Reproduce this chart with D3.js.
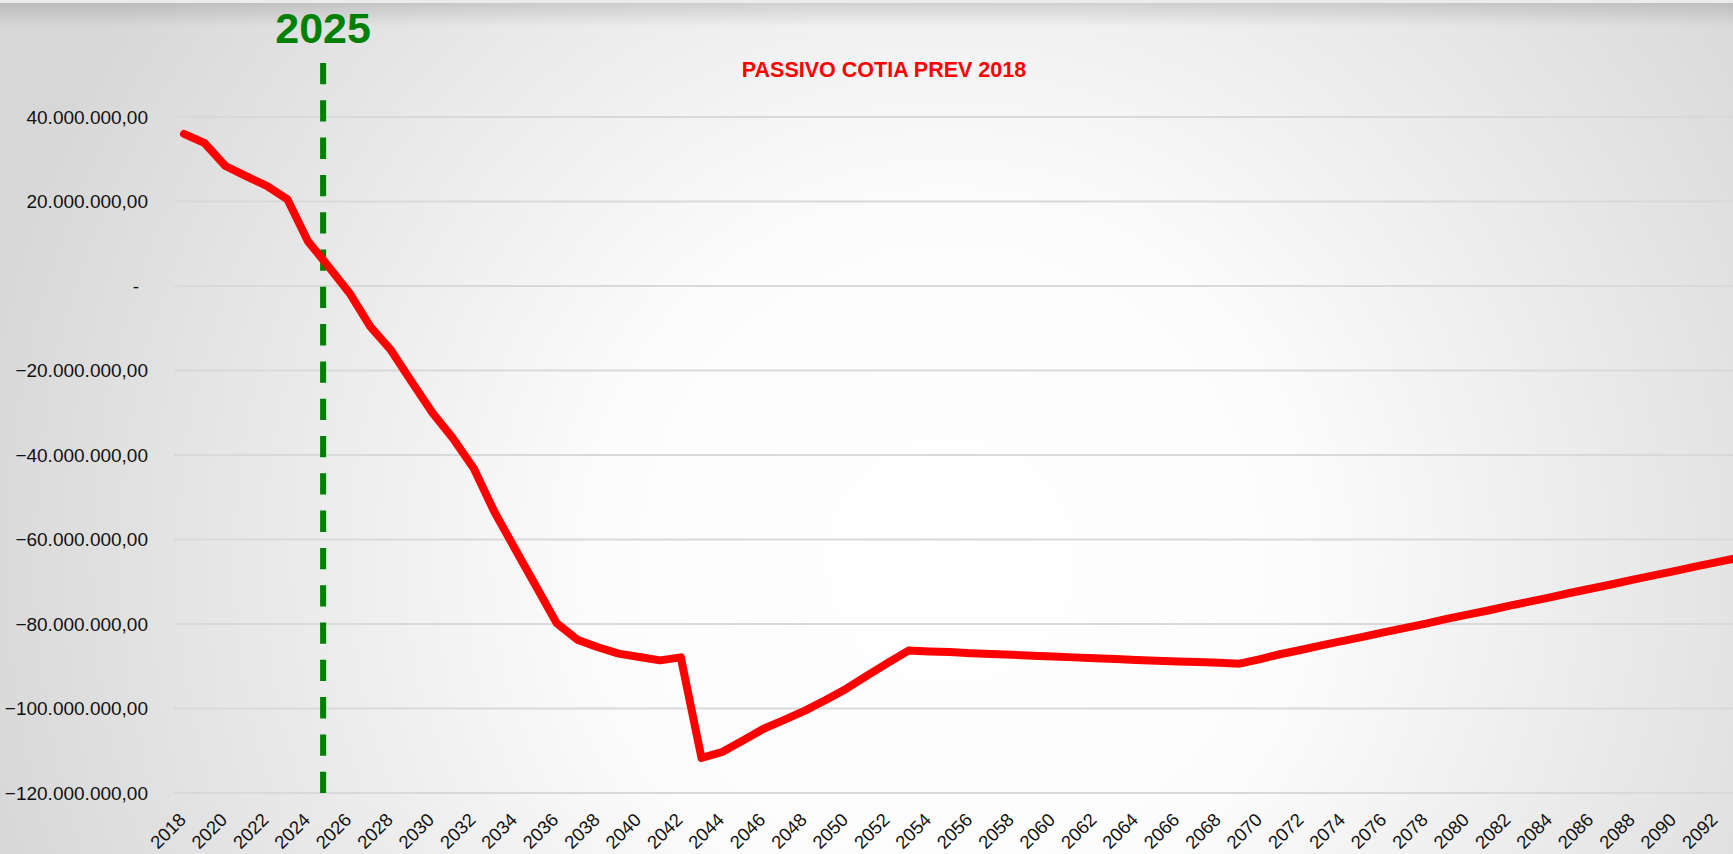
<!DOCTYPE html>
<html>
<head>
<meta charset="utf-8">
<script src="https://cdn.jsdelivr.net/npm/d3@7"></script>
<style>
  body { margin: 0; overflow: hidden; }
  text { font-family: "Liberation Sans", Arial, sans-serif; }
</style>
</head>
<body>
<div id="chart"></div>
<script>

var svgWidth = 1733;
var svgHeight = 854;

// years on the category axis
var years = d3.range(2018, 2094);

// liability per year, in millions of R$
var passivo = [
  36.0, 33.8, 28.4, 26.0, 23.7, 20.5, 10.5, 4.5, -1.7, -9.6,
  -15.2, -22.7, -30.0, -36.1, -43.2, -53.5, -62.3, -71.0, -79.8, -83.7,
  -85.5, -87.0, -87.8, -88.6, -87.9, -111.7, -110.3, -107.6, -104.8, -102.7,
  -100.5, -98.0, -95.3, -92.2, -89.2, -86.3, -86.5, -86.6, -86.9, -87.1,
  -87.3, -87.5, -87.7, -87.9, -88.1, -88.3, -88.5, -88.7, -88.9, -89.0,
  -89.2, -89.4, -88.3, -87.1, -86.1, -85.0, -84.0, -83.0, -81.9, -80.9,
  -79.9, -78.8, -77.8, -76.8, -75.7, -74.7, -73.7, -72.6, -71.6, -70.6,
  -69.5, -68.5, -67.5, -66.4, -65.4, -64.4
];

// y tick values (millions)
var yTicks = [40, 20, 0, -20, -40, -60, -80, -100, -120];

// x tick labels: every other year
var xTicks = d3.range(2018, 2093, 2);

var chartTitle = "PASSIVO COTIA PREV 2018";
var markerLabel = "2025";
// the hand drawn marker sits a bit left of the 2025 point
var markerPos = 2024.72;

var data = years.map(function(y, i) { return { year: y, value: passivo[i] * 1e6 }; });

var plotLeft = 174;

var svg = d3.select("#chart")
  .append("svg")
  .attr("width", svgWidth)
  .attr("height", svgHeight);

// background: soft radial gradient, white in the middle
var defs = svg.append("defs");
var bg = defs.append("radialGradient")
  .attr("id", "bg")
  .attr("gradientUnits", "userSpaceOnUse")
  .attr("cx", 950).attr("cy", 560).attr("r", 1000);
bg.append("stop").attr("offset", "0").attr("stop-color", "#ffffff");
bg.append("stop").attr("offset", "0.35").attr("stop-color", "#fcfcfc");
bg.append("stop").attr("offset", "1").attr("stop-color", "#d7d7d7");

var shade = defs.append("linearGradient")
  .attr("id", "shade")
  .attr("x1", 0).attr("y1", 0).attr("x2", 0).attr("y2", 1);
shade.append("stop").attr("offset", "0").attr("stop-color", "#000").attr("stop-opacity", 0.13);
shade.append("stop").attr("offset", "1").attr("stop-color", "#000").attr("stop-opacity", 0);

svg.append("rect")
  .attr("width", svgWidth)
  .attr("height", svgHeight)
  .attr("fill", "url(#bg)");

svg.append("rect")
  .attr("y", 0)
  .attr("width", svgWidth)
  .attr("height", 3)
  .attr("fill", "#ebebeb");

svg.append("rect")
  .attr("y", 3)
  .attr("width", svgWidth)
  .attr("height", 24)
  .attr("fill", "url(#shade)");

// scales
var xScale = d3.scaleLinear()
  .domain([2018, 2093])
  .range([184, 1736.5]);

var yScale = d3.scaleLinear()
  .domain([-120e6, 40e6])
  .range([793, 117]);

var ptBR = d3.formatLocale({ decimal: ",", thousands: ".", grouping: [3], currency: ["R$ ", ""] });
var fmt = ptBR.format(",.2f");

// gridlines
svg.append("g")
  .selectAll("line")
  .data(yTicks)
  .enter()
  .append("line")
  .attr("x1", plotLeft)
  .attr("x2", svgWidth)
  .attr("y1", d => yScale(d * 1e6))
  .attr("y2", d => yScale(d * 1e6))
  .attr("stroke", "#d9d9d9")
  .attr("stroke-width", 2);

// y axis labels
var leftAxis = d3.axisLeft(yScale)
  .tickValues(yTicks.map(d => d * 1e6))
  .tickSize(0)
  .tickPadding(0)
  .tickFormat(d => d === 0 ? "-" : fmt(d));

var yAxis = svg.append("g")
  .attr("transform", "translate(148, 0)")
  .call(leftAxis);
yAxis.select(".domain").remove();
yAxis.selectAll("text")
  .attr("font-family", "'Liberation Sans', Arial, sans-serif")
  .attr("font-size", "19px")
  .attr("fill", "#111")
  .attr("dx", d => d === 0 ? -9 : 0);

// x axis labels, rotated
svg.append("g")
  .selectAll("text")
  .data(xTicks)
  .enter()
  .append("text")
  .attr("transform", d => `translate(${xScale(d) + 3}, 821) rotate(-45)`)
  .attr("text-anchor", "end")
  .attr("font-size", "18.5px")
  .attr("fill", "#111")
  .text(d => d);

// 2025 marker
svg.append("line")
  .attr("x1", xScale(markerPos))
  .attr("x2", xScale(markerPos))
  .attr("y1", 63)
  .attr("y2", 793.5)
  .attr("stroke", "#008000")
  .attr("stroke-width", 6)
  .attr("stroke-dasharray", "21.3 16");

svg.append("text")
  .attr("x", xScale(markerPos))
  .attr("y", 43)
  .attr("text-anchor", "middle")
  .attr("font-size", "43px")
  .attr("font-weight", "bold")
  .attr("fill", "#008000")
  .text(markerLabel);

// title
svg.append("text")
  .attr("x", 884)
  .attr("y", 77)
  .attr("text-anchor", "middle")
  .attr("font-size", "21.5px")
  .attr("font-weight", "bold")
  .attr("fill", "#ff0000")
  .text(chartTitle);

// the series line
var line = d3.line()
  .x(d => xScale(d.year))
  .y(d => yScale(d.value));

svg.append("path")
  .datum(data)
  .attr("d", line)
  .attr("fill", "none")
  .attr("stroke", "#ff0000")
  .attr("stroke-width", 8)
  .attr("stroke-linejoin", "round")
  .attr("stroke-linecap", "round");

</script>
</body>
</html>
